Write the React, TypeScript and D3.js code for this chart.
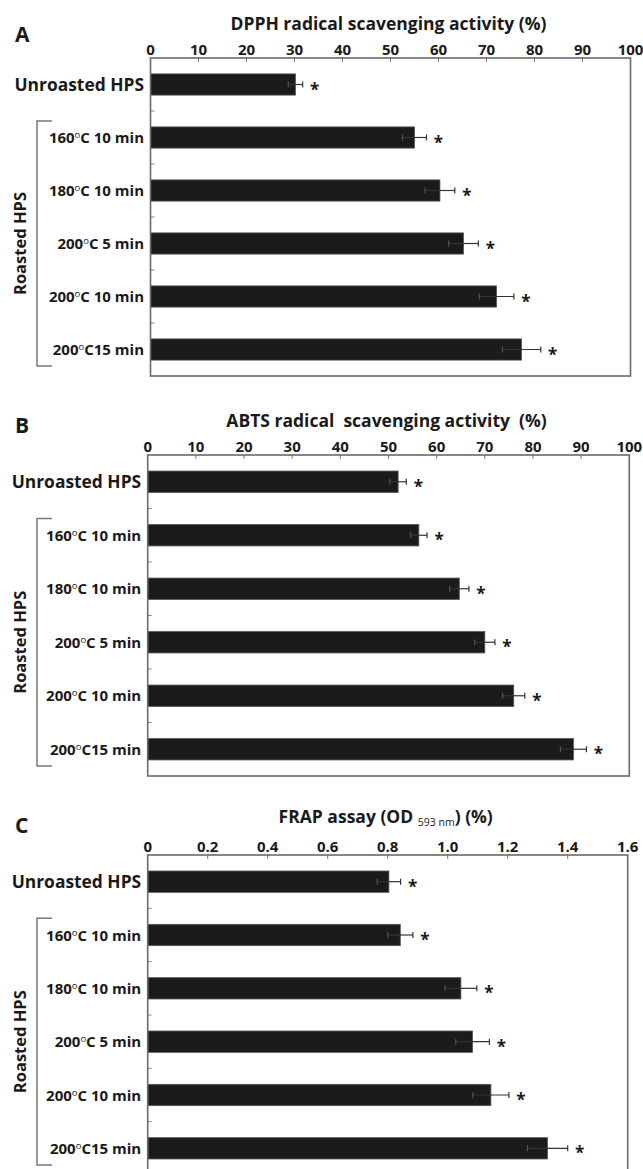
import React from "react";
import * as d3 from "d3";

const categories = [
  "Unroasted HPS",
  "160°C 10 min",
  "180°C 10 min",
  "200°C 5 min",
  "200°C 10 min",
  "200°C15 min",
];

const dpphValues = [30.2, 55.0, 60.3, 65.2, 72.1, 77.3];
const dpphErrors = [1.5, 2.5, 3.1, 3.1, 3.6, 4.0];

const abtsValues = [52.0, 56.3, 64.7, 70.0, 76.0, 88.4];
const abtsErrors = [1.7, 1.7, 2.0, 2.1, 2.3, 2.7];

const frapValues = [0.804, 0.842, 1.044, 1.083, 1.144, 1.333];
const frapErrors = [0.039, 0.042, 0.053, 0.056, 0.06, 0.067];

const pctTicks = [0, 10, 20, 30, 40, 50, 60, 70, 80, 90, 100];
const pctTickLabels = ["0", "10", "20", "30", "40", "50", "60", "70", "80", "90", "100"];
const frapTicks = [0, 0.2, 0.4, 0.6, 0.8, 1.0, 1.2, 1.4, 1.6];
const frapTickLabels = ["0", "0.2", "0.4", "0.6", "0.8", "1.0", "1.2", "1.4", "1.6"];

const groupLabel = "Roasted HPS";

const FONT = "'Open Sans', 'Noto Sans', sans-serif";
const TEXT = "#1a1a1a";

type Panel = {
  letter: string;
  title: string;
  values: number[];
  errors: number[];
  domain: [number, number];
  ticks: number[];
  tickLabels: string[];
  x0: number;
  x1: number;
  y0: number;
  y1: number;
  letterY: number;
  titleY: number;
};

const panels: Panel[] = [
  {
    letter: "A",
    title: "DPPH radical scavenging activity (%)",
    values: dpphValues,
    errors: dpphErrors,
    domain: [0, 100],
    ticks: pctTicks,
    tickLabels: pctTickLabels,
    x0: 150.5,
    x1: 630.5,
    y0: 58,
    y1: 376,
    letterY: 42,
    titleY: 30,
  },
  {
    letter: "B",
    title: "ABTS radical  scavenging activity  (%)",
    values: abtsValues,
    errors: abtsErrors,
    domain: [0, 100],
    ticks: pctTicks,
    tickLabels: pctTickLabels,
    x0: 147.7,
    x1: 629.3,
    y0: 455,
    y1: 776,
    letterY: 433,
    titleY: 427,
  },
  {
    letter: "C",
    title: "FRAP assay (OD ",
    values: frapValues,
    errors: frapErrors,
    domain: [0, 1.6],
    ticks: frapTicks,
    tickLabels: frapTickLabels,
    x0: 147.7,
    x1: 627.7,
    y0: 855,
    y1: 1175,
    letterY: 833,
    titleY: 823,
  },
];

function CategoryLabel({ text, x, y, big }: { text: string; x: number; y: number; big: boolean }) {
  const idx = text.indexOf("°C");
  if (idx < 0) {
    return (
      <text x={x} y={y + (big ? 0.5 : 0)} textAnchor="end" fontSize={big ? 17.4 : 15} fontWeight={700} fill={TEXT} fontFamily={FONT}>
        {text}
      </text>
    );
  }
  const before = text.slice(0, idx);
  const after = text.slice(idx + 2);
  return (
    <text x={x} y={y} textAnchor="end" fontSize={15} fontWeight={700} fill={TEXT} fontFamily={FONT} style={{ whiteSpace: "pre" }}>
      {before}
      <tspan fontSize={9.5} fontWeight={400} dy={-5}>o</tspan>
      <tspan dy={5}>{"C" + after}</tspan>
    </text>
  );
}

function PanelView({ p }: { p: Panel }) {
  const x = d3.scaleLinear().domain(p.domain).range([p.x0, p.x1]);
  const y = d3
    .scaleBand<string>()
    .domain(categories)
    .range([p.y0, p.y1])
    .paddingInner(0.6)
    .paddingOuter(0.3);
  const bw = y.bandwidth();
  const step = y.step();
  const cx = (p.x0 + p.x1) / 2 - 2;
  const bTop = (y(categories[1]) as number) - 6;
  const bBot = (y(categories[categories.length - 1]) as number) + bw + 6;

  return (
    <g>
      <text x={15} y={p.letterY} fontSize={21} fontWeight={700} fill={TEXT} fontFamily={FONT}>
        {p.letter}
      </text>
      {p.letter === "C" ? (
        <text x={cx} y={p.titleY} textAnchor="middle" fontSize={17.5} fontWeight={700} fill={TEXT} fontFamily={FONT} style={{ whiteSpace: "pre" }}>
          {p.title}
          <tspan fontSize={10.5} fontWeight={400} dy={3}>593 nm</tspan>
          <tspan dy={-3}>{") (%)"}</tspan>
        </text>
      ) : (
        <text x={cx} y={p.titleY} textAnchor="middle" fontSize={17.5} fontWeight={700} fill={TEXT} fontFamily={FONT} style={{ whiteSpace: "pre" }}>
          {p.title}
        </text>
      )}
      {p.ticks.map((t, i) => (
        <g key={"t" + i}>
          <text x={x(t)} y={p.y0 - 3} textAnchor="middle" fontSize={15} fontWeight={700} fill={TEXT} fontFamily={FONT}>
            {p.tickLabels[i]}
          </text>
          <line x1={x(t)} x2={x(t)} y1={p.y0} y2={p.y0 + 4} stroke="#777" strokeWidth={1} />
        </g>
      ))}
      {categories.slice(1).map((c, i) => {
        const yy = (y(c) as number) - (step - bw) / 2;
        return <line key={"yt" + i} x1={p.x0} x2={p.x0 + 4} y1={yy} y2={yy} stroke="#888" strokeWidth={1} />;
      })}
      {categories.map((c, i) => {
        const yb = y(c) as number;
        const yc = yb + bw / 2;
        const v = p.values[i];
        const e = p.errors[i];
        return (
          <g key={"b" + i}>
            <rect x={x(0)} y={yb} width={x(v) - x(0)} height={bw} fill="#1b1b1b" stroke="#555" strokeWidth={0.8} />
            <line x1={x(v - e)} x2={x(v + e)} y1={yc} y2={yc} stroke="#333" strokeWidth={1.2} />
            <line x1={x(v - e)} x2={x(v - e)} y1={yc - 3} y2={yc + 3} stroke="#555" strokeWidth={1.2} />
            <line x1={x(v + e)} x2={x(v + e)} y1={yc - 3} y2={yc + 3} stroke="#333" strokeWidth={1.2} />
            <text x={x(v + e) + 12} y={yc + 11} textAnchor="middle" fontSize={17} fontWeight={700} fill={TEXT} fontFamily={FONT}>
              *
            </text>
            <CategoryLabel text={c} x={p.x0 - 6.5} y={yc + 5.5} big={i === 0} />
          </g>
        );
      })}
      <rect x={p.x0} y={p.y0} width={p.x1 - p.x0} height={p.y1 - p.y0} fill="none" stroke="#6a6a6a" strokeWidth={1.6} />
      <path d={`M52,${bTop} H37 V${bBot} H52`} fill="none" stroke="#777" strokeWidth={1.5} />
      <text
        transform={`translate(26,${(bTop + bBot) / 2}) rotate(-90)`}
        textAnchor="middle"
        fontSize={16.5}
        fontWeight={700}
        fill={TEXT}
        fontFamily={FONT}
      >
        {groupLabel}
      </text>
    </g>
  );
}

export default function App() {
  return (
    <svg
      width={643}
      height={1169}
      viewBox="0 0 643 1169"
      style={{ position: "absolute", left: 0, top: 0, background: "#fff" }}
    >
      <rect x={0} y={0} width={643} height={1169} fill="#fff" />
      {panels.map((p) => (
        <PanelView key={p.letter} p={p} />
      ))}
    </svg>
  );
}
